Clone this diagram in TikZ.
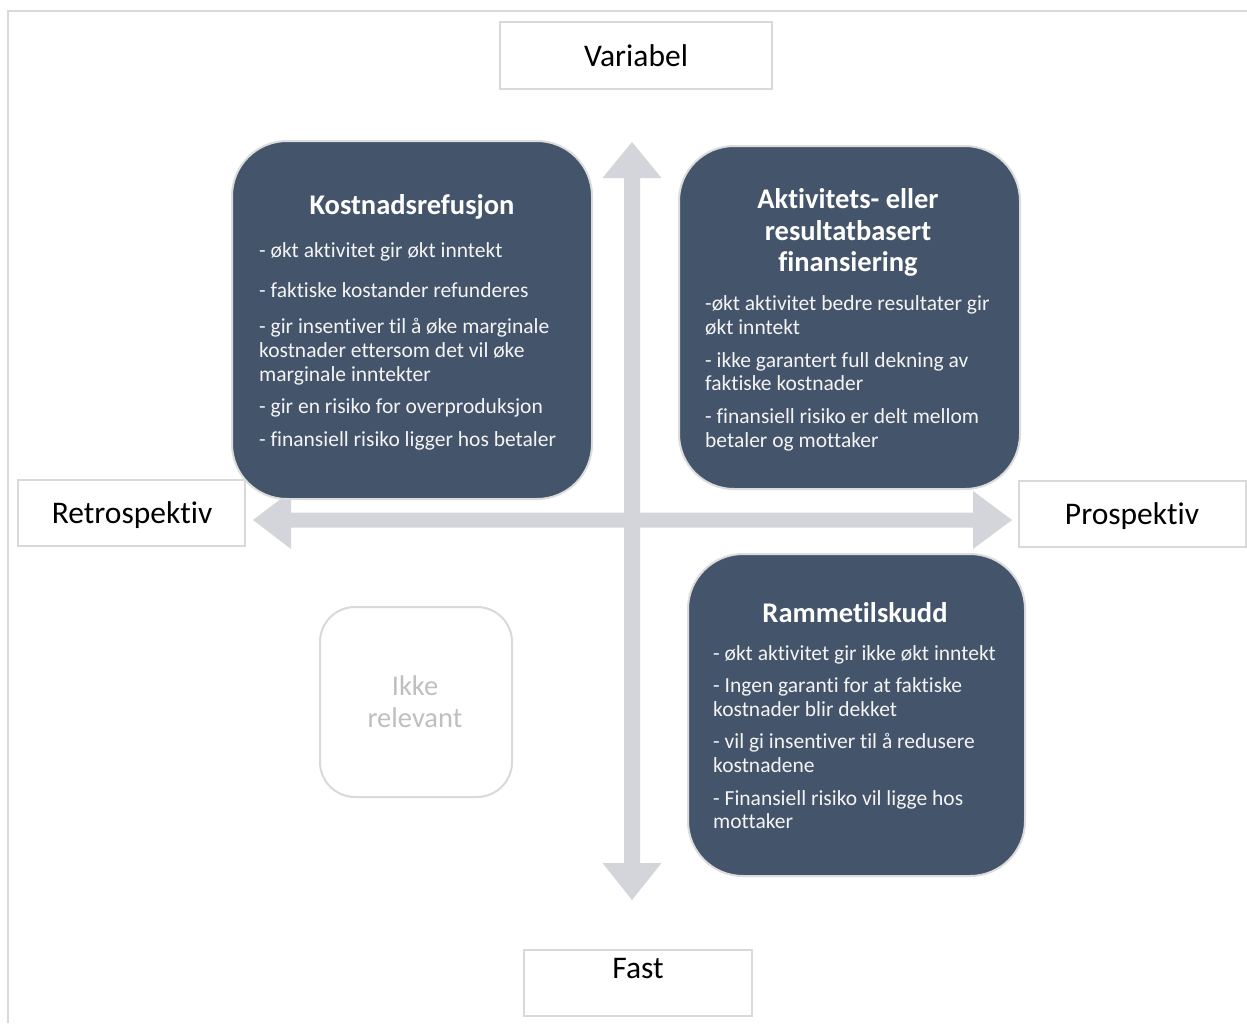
\documentclass[tikz,border=0pt]{standalone}
\usepackage{fontspec}
\setmainfont{Carlito}[Ligatures=NoCommon]
\definecolor{darkbox}{HTML}{44546A}
\definecolor{boxedge}{HTML}{DCDCDC}
\definecolor{framegray}{HTML}{D9D9D9}
\definecolor{axisgray}{HTML}{D3D5DA}
\definecolor{bodytext}{HTML}{F4F4F4}
\definecolor{faintgray}{HTML}{BFBFBF}
\begin{document}
\begin{tikzpicture}[x=1pt,y=-1pt,
  quad/.style={draw=boxedge, line width=2pt, fill=darkbox, rounded corners=55pt, inner sep=0pt},
  axislabel/.style={draw=framegray, line width=2pt, fill=white, inner sep=0pt},
  labeltext/.style={anchor=base, inner sep=0pt, text=black, font=\fontsize{31.5}{35}\selectfont},
  titletext/.style={anchor=base, inner sep=0pt, text=white, font=\fontsize{28.5}{32}\selectfont\bfseries},
  bodyline/.style={anchor=base west, inner sep=0pt, text=bodytext, font=\fontsize{21.5}{24}\selectfont},
  ghost/.style={draw=framegray, line width=2pt, fill=white, rounded corners=35pt, inner sep=0pt},
  ghosttext/.style={anchor=base, inner sep=0pt, text=faintgray, font=\fontsize{28.5}{31}\selectfont}
]
\useasboundingbox (0,0) rectangle (1247,1023);
\fill[white] (0,0) rectangle (1247,1023);
% outer frame (top and left edges)
\draw[framegray, line width=2pt] (8,1023) -- (8,11) -- (1247,11);

% axes
\coordinate (vt) at (632,142);
\coordinate (vb) at (632,900);
\coordinate (hl) at (253,520);
\coordinate (hr) at (1012,520);
\fill[axisgray] (vt) -- ([shift={(29.5,36)}]vt) -- ([shift={(8,36)}]vt)
  -- ([shift={(8,-37)}]vb) -- ([shift={(29.5,-37)}]vb) -- (vb)
  -- ([shift={(-29.5,-37)}]vb) -- ([shift={(-8,-37)}]vb)
  -- ([shift={(-8,36)}]vt) -- ([shift={(-29.5,36)}]vt) -- cycle;
\fill[axisgray] (hl) -- ([shift={(38,-29)}]hl) -- ([shift={(38,-7.5)}]hl)
  -- ([shift={(-39,-7.5)}]hr) -- ([shift={(-39,-29)}]hr) -- (hr)
  -- ([shift={(-39,29)}]hr) -- ([shift={(-39,7.5)}]hr)
  -- ([shift={(38,7.5)}]hl) -- ([shift={(38,29)}]hl) -- cycle;

% axis labels
\node[axislabel, minimum width=272pt, minimum height=67pt] (var) at (636,55.5) {};
\node[labeltext] (vartxt) at (636,66) {Variabel};
\node[axislabel, minimum width=227pt, minimum height=66pt] (retro) at (131.5,513) {};
\node[labeltext] (retrotxt) at (132,523) {Retrospektiv};
\node[axislabel, minimum width=227pt, minimum height=66pt] (pro) at (1132.5,514) {};
\node[labeltext] (protxt) at (1132,524) {Prospektiv};
\node[axislabel, minimum width=228pt, minimum height=66pt] (fast) at (638,983) {};
\node[labeltext] (fasttxt) at (638,978) {Fast};

% quadrant 1: Kostnadsrefusjon
\node[quad, minimum width=360pt, minimum height=358pt] (q1) at (412,320) {};
\node[titletext] (q1t) at (412,214) {Kostnadsrefusjon};
\node[bodyline] (q1a) at (259,257) {- økt aktivitet gir økt inntekt};
\node[bodyline] (q1b) at (259,297) {- faktiske kostander refunderes};
\node[bodyline] (q1c) at (259,333) {- gir insentiver til å øke marginale};
\node[bodyline] (q1d) at (259,357) {kostnader ettersom det vil øke};
\node[bodyline] (q1e) at (259,381) {marginale inntekter};
\node[bodyline] (q1f) at (259,413) {- gir en risiko for overproduksjon};
\node[bodyline] (q1g) at (259,446) {- finansiell risiko ligger hos betaler};

% quadrant 2: Aktivitets- eller resultatbasert finansiering
\node[quad, minimum width=341pt, minimum height=343pt] (q2) at (849.5,317.5) {};
\node[titletext] (q2t1) at (848,208) {Aktivitets- eller};
\node[titletext] (q2t2) at (848,240) {resultatbasert};
\node[titletext] (q2t3) at (848,271) {finansiering};
\node[bodyline] (q2a) at (705,310) {-økt aktivitet bedre resultater gir};
\node[bodyline] (q2b) at (705,334) {økt inntekt};
\node[bodyline] (q2c) at (705,367) {- ikke garantert full dekning av};
\node[bodyline] (q2d) at (705,390) {faktiske kostnader};
\node[bodyline] (q2e) at (705,423) {- finansiell risiko er delt mellom};
\node[bodyline] (q2f) at (705,447) {betaler og mottaker};

% quadrant 4: Rammetilskudd
\node[quad, minimum width=337pt, minimum height=322pt] (q4) at (856.5,715) {};
\node[titletext] (q4t) at (855,622) {Rammetilskudd};
\node[bodyline] (q4a) at (713,660) {- økt aktivitet gir ikke økt inntekt};
\node[bodyline] (q4b) at (713,692) {- Ingen garanti for at faktiske};
\node[bodyline] (q4c) at (713,716) {kostnader blir dekket};
\node[bodyline] (q4d) at (713,748) {- vil gi insentiver til å redusere};
\node[bodyline] (q4e) at (713,772) {kostnadene};
\node[bodyline] (q4f) at (713,805) {- Finansiell risiko vil ligge hos};
\node[bodyline] (q4g) at (713,828) {mottaker};

% quadrant 3: not relevant
\node[ghost, minimum width=192pt, minimum height=190pt] (q3) at (416,702) {};
\node[ghosttext] (q3a) at (415,695) {Ikke};
\node[ghosttext] (q3b) at (415,727) {relevant};
\end{tikzpicture}
\end{document}
